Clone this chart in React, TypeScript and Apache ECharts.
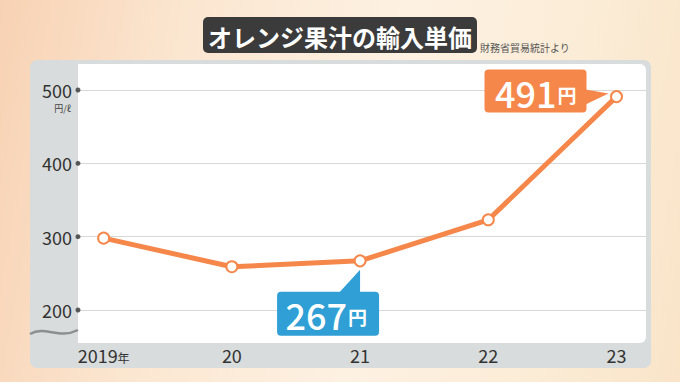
import React, { useEffect, useRef } from "react";
import * as echarts from "echarts";

const xLabels = ["2019", "20", "21", "22", "23"];
const prices = [298, 259, 267, 323, 491];
const yTicks = [200, 300, 400, 500];
const calloutIndex = [4, 2];
const calloutKind = [0, 1]; // 0 = orange left, 1 = blue below
const titleText = "オレンジ果汁の輸入単価";
const sourceText = "財務省貿易統計より";
const unitText = "円/ℓ";
const yenText = "円";

const FONT = '"Noto Sans CJK JP", "Noto Sans", sans-serif';
const ORANGE = "#f5874a";
const BLUE = "#2f9fd6";

export default function App() {
  const ref = useRef<HTMLDivElement>(null);
  useEffect(() => {
    if (!ref.current) return;
    const chart = echarts.init(ref.current, null, { renderer: "svg" });
    const lineData = prices.map((v, i) => [i, v]);
    const calloutData = calloutIndex.map((idx, k) => [idx, prices[idx], calloutKind[k]]);
    const tickData = yTicks.map((v) => [-0.2, v]);

    chart.setOption({
      animation: false,
      textStyle: { fontFamily: FONT },
      grid: { left: 78, right: 34, top: 90, bottom: 72 },
      xAxis: {
        type: "value",
        min: -0.2,
        max: 4.23,
        axisLine: { show: false },
        axisTick: { show: false },
        splitLine: { show: false },
        axisLabel: {
          customValues: [0, 1, 2, 3, 4],
          margin: 36,
          color: "#333",
          fontSize: 18,
          fontFamily: FONT,
          formatter: (v: number) => {
            const i = Math.round(v);
            return i === 0 ? xLabels[i] + "{y|年}" : xLabels[i];
          },
          rich: { y: { fontSize: 12, color: "#333", fontFamily: FONT, verticalAlign: "bottom" } },
        },
      },
      yAxis: {
        type: "value",
        min: 200,
        max: 500,
        interval: 100,
        axisLine: { show: false },
        axisTick: { show: false },
        axisLabel: { color: "#333", fontSize: 18, margin: 6, fontFamily: FONT },
        splitLine: { lineStyle: { color: "#d8d8d8", width: 1 } },
      },
      graphic: [
        { type: "rect", z: -20, shape: { x: 30, y: 60, width: 621, height: 308, r: 7 }, style: { fill: "#d9dcdc" } },
        { type: "rect", z: -19, shape: { x: 78, y: 64, width: 568, height: 279, r: [0, 6, 6, 0] }, style: { fill: "#ffffff" } },
        { type: "bezierCurve", z: -18, shape: { x1: 30, y1: 334, x2: 78, y2: 330, cpx1: 46, cpy1: 325, cpx2: 58, cpy2: 340 }, style: { stroke: "#8c8f8f", lineWidth: 2.5, fill: null } },
        { type: "rect", z: 10, shape: { x: 203, y: 17, width: 274, height: 36, r: 5 }, style: { fill: "#3b3b3b" } },
        { type: "text", z: 11, x: 340, y: 36, style: { text: titleText, fill: "#ffffff", font: `bold 24px ${FONT}`, textAlign: "center", textVerticalAlign: "middle" } },
        { type: "text", z: 11, x: 480, y: 52, style: { text: sourceText, fill: "#555", font: `10px ${FONT}`, textAlign: "left", textVerticalAlign: "bottom" } },
        { type: "text", z: 11, x: 71, y: 108, style: { text: unitText, fill: "#444", font: `9px ${FONT}`, textAlign: "right", textVerticalAlign: "middle" } },
      ],
      series: [
        {
          type: "scatter",
          data: tickData,
          symbolSize: 5,
          clip: false,
          itemStyle: { color: "#333" },
          z: 3,
        },
        {
          type: "line",
          data: lineData,
          lineStyle: { color: ORANGE, width: 5 },
          symbol: "circle",
          symbolSize: 11,
          itemStyle: { color: "#ffffff", borderColor: ORANGE, borderWidth: 2 },
          z: 4,
        },
        {
          type: "custom",
          data: calloutData,
          z: 5,
          clip: false,
          renderItem: (params: any, api: any) => {
            const p = api.coord([api.value(0), api.value(1)]);
            const kind = api.value(2);
            const val = String(api.value(1));
            if (kind === 0) {
              const bx = p[0] - 132, by = p[1] - 27;
              return {
                type: "group",
                children: [
                  { type: "rect", shape: { x: bx, y: by, width: 102, height: 43, r: 4 }, style: { fill: ORANGE } },
                  { type: "polygon", shape: { points: [[p[0] - 31, p[1] - 7], [p[0] - 8, p[1] - 3], [p[0] - 31, p[1] + 8]] }, style: { fill: ORANGE } },
                  { type: "text", x: p[0] - 60, y: by + 22, style: { text: val, fill: "#fff", font: `500 36px ${FONT}`, textAlign: "right", textVerticalAlign: "middle" } },
                  { type: "text", x: p[0] - 59, y: by + 25, style: { text: yenText, fill: "#fff", font: `bold 19px ${FONT}`, textAlign: "left", textVerticalAlign: "middle" } },
                ],
              };
            }
            const bx = p[0] - 83, by = p[1] + 31;
            return {
              type: "group",
              children: [
                { type: "rect", shape: { x: bx, y: by, width: 102, height: 44, r: 4 }, style: { fill: BLUE } },
                { type: "polygon", shape: { points: [[p[0] - 21, by + 1], [p[0], p[1] + 9], [p[0], by + 1]] }, style: { fill: BLUE } },
                { type: "text", x: p[0] - 13, y: by + 22, style: { text: val, fill: "#fff", font: `500 36px ${FONT}`, textAlign: "right", textVerticalAlign: "middle" } },
                { type: "text", x: p[0] - 12, y: by + 25, style: { text: yenText, fill: "#fff", font: `bold 19px ${FONT}`, textAlign: "left", textVerticalAlign: "middle" } },
              ],
            };
          },
        },
      ],
    });
    return () => chart.dispose();
  }, []);

  return (
    <div
      ref={ref}
      style={{
        width: 680,
        height: 382,
        position: "absolute",
        left: 0,
        top: 0,
        background:
          "linear-gradient(100deg, #f8d2b4 0%, #fbe6d0 25%, #fdf1e2 55%, #fbecd6 80%, #f9e4c8 100%)",
      }}
    />
  );
}
